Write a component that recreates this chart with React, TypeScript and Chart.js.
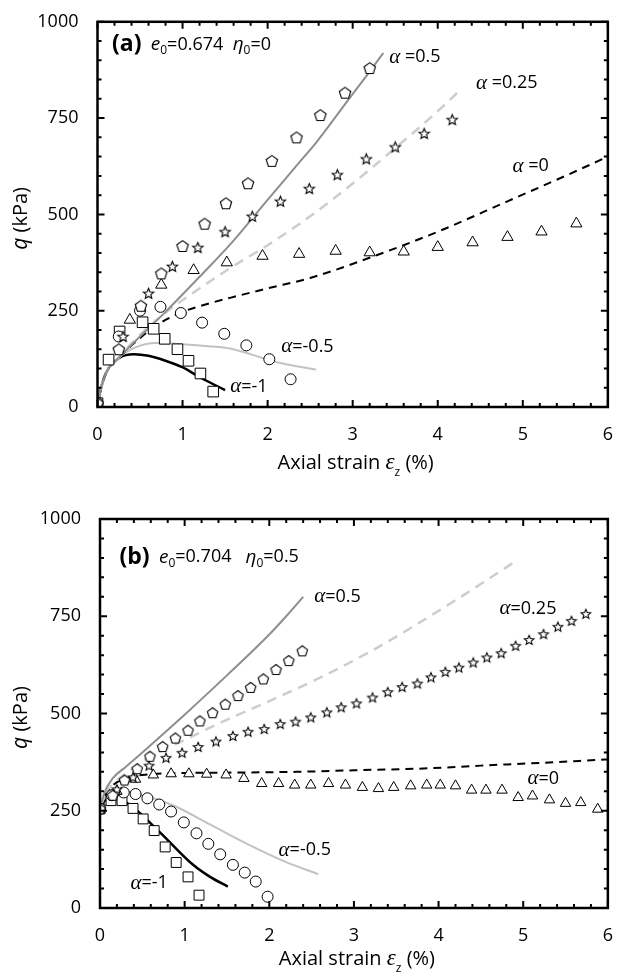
import React, { useEffect, useRef } from "react";
import { Chart, registerables } from "chart.js";

Chart.register(...registerables);

type Pt = [number, number];

// ---------- axes ----------
const X_TICKS = [0, 1, 2, 3, 4, 5, 6];
const Y_TICKS = [0, 250, 500, 750, 1000];
const X_MINOR_STEP = 0.2;
const Y_MINOR_STEP = 50;

// ---------- panel (a): e0 = 0.674, eta0 = 0 ----------
// measured (axial strain %, q kPa)
const A_TEST_P05: Pt[] = [
  [0, 10], [0.25, 150], [0.51, 263], [0.75, 347], [1.0, 418], [1.26, 476], [1.51, 529],
  [1.77, 581], [2.05, 639], [2.34, 700], [2.62, 758], [2.91, 816], [3.2, 880],
];
const A_TEST_P025: Pt[] = [
  [0, 5], [0.3, 183], [0.6, 295], [0.88, 365], [1.18, 414], [1.5, 455], [1.82, 495],
  [2.15, 534], [2.49, 567], [2.82, 603], [3.16, 644], [3.5, 675], [3.84, 710], [4.17, 746],
];
const A_TEST_0: Pt[] = [
  [0, 5], [0.38, 226], [0.75, 317], [1.13, 355], [1.52, 375], [1.94, 392], [2.37, 397],
  [2.8, 405], [3.2, 401], [3.6, 403], [4.0, 415], [4.41, 427], [4.82, 441], [5.22, 455], [5.63, 476],
];
const A_TEST_M05: Pt[] = [
  [0, 10], [0.25, 183], [0.5, 250], [0.74, 260], [0.98, 244], [1.23, 219], [1.49, 190],
  [1.75, 160], [2.02, 124], [2.27, 72],
];
const A_TEST_M1: Pt[] = [
  [0, 10], [0.13, 123], [0.26, 196], [0.53, 220], [0.66, 203], [0.79, 177], [0.94, 150],
  [1.07, 120], [1.21, 87], [1.36, 40],
];
// simulated curves
const A_SIM_P05: Pt[] = [
  [0, 0], [0.03, 38], [0.1, 88], [0.26, 130], [0.5, 183], [0.8, 247], [1.2, 338], [1.6, 432],
  [1.97, 530], [2.35, 629], [2.58, 689], [2.9, 783], [3.18, 865], [3.36, 919],
];
const A_SIM_P025: Pt[] = [
  [0, 0], [0.03, 38], [0.1, 88], [0.26, 130], [0.4, 165], [0.57, 202], [0.8, 245], [1.03, 282],
  [1.57, 362], [2.0, 420], [2.5, 495], [3.0, 580], [3.5, 672], [4.0, 768], [4.26, 822],
];
const A_SIM_0: Pt[] = [
  [0, 0], [0.03, 38], [0.1, 88], [0.26, 130], [0.49, 177], [0.7, 213], [0.98, 245], [1.3, 268],
  [1.57, 284], [2.0, 308], [2.5, 335], [3.23, 390], [4.0, 455], [4.82, 534], [5.5, 600], [6, 650],
];
const A_SIM_M05: Pt[] = [
  [0, 0], [0.03, 38], [0.1, 88], [0.26, 130], [0.45, 155], [0.69, 166], [1.0, 163], [1.3, 158],
  [1.57, 151], [2.0, 123], [2.15, 114], [2.57, 97],
];
const A_SIM_M1: Pt[] = [
  [0, 0], [0.03, 38], [0.1, 88], [0.26, 128], [0.43, 137], [0.6, 133], [0.8, 120], [0.99, 104],
  [1.23, 74], [1.5, 44],
];

// ---------- panel (b): e0 = 0.704, eta0 = 0.5 ----------
const B_TEST_P05: Pt[] = [
  [0, 255], [0.15, 290], [0.29, 329], [0.44, 358], [0.59, 390], [0.74, 415], [0.89, 437],
  [1.04, 457], [1.18, 481], [1.33, 502], [1.48, 524], [1.63, 546], [1.78, 567], [1.93, 589],
  [2.08, 613], [2.23, 636], [2.39, 661],
];
const B_TEST_P025: Pt[] = [
  [0, 255], [0.2, 305], [0.39, 336], [0.58, 366], [0.78, 386], [0.97, 399], [1.16, 414],
  [1.37, 428], [1.57, 442], [1.75, 453], [1.94, 460], [2.13, 473], [2.31, 479], [2.49, 490],
  [2.68, 503], [2.85, 516], [3.03, 526], [3.22, 541], [3.4, 555], [3.57, 568], [3.75, 577],
  [3.91, 593], [4.08, 607], [4.24, 618], [4.41, 631], [4.57, 644], [4.74, 655], [4.91, 674],
  [5.07, 689], [5.24, 704], [5.41, 723], [5.57, 738], [5.74, 756],
];
const B_TEST_0: Pt[] = [
  [0, 252], [0.2, 300], [0.42, 331], [0.63, 342], [0.84, 345], [1.05, 345], [1.26, 344],
  [1.49, 342], [1.7, 333], [1.91, 320], [2.11, 320], [2.3, 316], [2.49, 316], [2.7, 320],
  [2.9, 316], [3.1, 310], [3.29, 307], [3.47, 310], [3.67, 314], [3.86, 316], [4.02, 316],
  [4.2, 314], [4.39, 303], [4.56, 303], [4.75, 303], [4.94, 284], [5.11, 288], [5.31, 278],
  [5.5, 269], [5.68, 271], [5.88, 254],
];
const B_TEST_M05: Pt[] = [
  [0, 255], [0.14, 290], [0.28, 297], [0.42, 293], [0.56, 282], [0.7, 266], [0.84, 248],
  [0.99, 220], [1.14, 192], [1.28, 165], [1.42, 138], [1.57, 111], [1.71, 91], [1.84, 68],
  [1.98, 29],
];
const B_TEST_M1: Pt[] = [
  [0, 255], [0.13, 276], [0.26, 276], [0.39, 256], [0.51, 229], [0.64, 199], [0.77, 157],
  [0.9, 117], [1.04, 80], [1.17, 33],
];
const B_SIM_P05: Pt[] = [
  [0, 255], [0.05, 295], [0.15, 333], [0.3, 362], [0.45, 390], [0.7, 438], [1.0, 497],
  [1.5, 598], [2.0, 703], [2.2, 750], [2.4, 800],
];
const B_SIM_P025: Pt[] = [
  [0, 255], [0.05, 290], [0.15, 318], [0.3, 345], [0.56, 385], [1.0, 432], [1.49, 483],
  [2.0, 532], [2.58, 590], [3.2, 660], [3.71, 725], [4.3, 805], [4.92, 893],
];
const B_SIM_0: Pt[] = [
  [0, 255], [0.05, 285], [0.15, 315], [0.3, 333], [0.5, 342], [1.0, 347], [1.5, 348],
  [2.32, 350], [3.0, 354], [3.87, 359], [4.5, 366], [5.2, 373], [6, 382],
];
const B_SIM_M05: Pt[] = [
  [0, 255], [0.05, 282], [0.12, 298], [0.2, 302], [0.41, 295], [0.84, 266], [1.3, 215],
  [1.72, 167], [2.2, 118], [2.58, 87],
];
const B_SIM_M1: Pt[] = [
  [0, 255], [0.04, 272], [0.12, 283], [0.2, 282], [0.37, 262], [0.72, 192], [1.1, 111],
  [1.3, 80], [1.51, 55],
];

// ---------- styling ----------
const SANS = '"Open Sans", "Liberation Sans", sans-serif';
const SERIF = '"Liberation Serif", "DejaVu Serif", serif';
const F_TEXT = `18px ${SANS}`;
const F_TITLE = `20px ${SANS}`;
const F_GREEK = `italic 21px ${SERIF}`;
const F_GREEK_TITLE = `italic 23px ${SERIF}`;
const F_ITAL = `italic 19px ${SANS}`;
const F_ITAL_TITLE = `italic 21px ${SANS}`;
const F_SUB = `12px ${SANS}`;
const F_BOLD = `bold 23px ${SANS}`;

const C_P05 = "#8e8e8e";
const C_P025 = "#cdcdcd";
const C_M05 = "#c2c2c2";

interface Run { t: string; f: string; dy?: number }
interface Note { x: number; y: number; runs: Run[] }

function drawRuns(ctx: CanvasRenderingContext2D, runs: Run[], x: number, y: number, center = false) {
  ctx.textBaseline = "middle";
  ctx.textAlign = "left";
  let w = 0;
  for (const r of runs) { ctx.font = r.f; w += ctx.measureText(r.t).width; }
  let cx = center ? x - w / 2 : x;
  for (const r of runs) {
    ctx.font = r.f;
    ctx.fillText(r.t, cx, y + (r.dy ?? 0));
    cx += ctx.measureText(r.t).width;
  }
}

function markerCanvas(kind: "pentagon" | "star", size: number): HTMLCanvasElement {
  const pad = 2;
  const dim = Math.ceil(size) + pad * 2;
  const c = document.createElement("canvas");
  c.width = dim;
  c.height = dim;
  const g = c.getContext("2d")!;
  g.translate(dim / 2, dim / 2 + (kind === "pentagon" ? size * 0.05 : size * 0.04));
  const R = size / 2;
  g.beginPath();
  const n = kind === "pentagon" ? 5 : 10;
  for (let i = 0; i < n; i++) {
    const a = -Math.PI / 2 + (i * 2 * Math.PI) / n;
    const r = kind === "star" && i % 2 ? R * 0.45 : R;
    const px = r * Math.cos(a);
    const py = r * Math.sin(a);
    if (i === 0) g.moveTo(px, py); else g.lineTo(px, py);
  }
  g.closePath();
  g.fillStyle = "#fff";
  g.fill();
  g.strokeStyle = "#000";
  g.lineWidth = 1.1;
  g.stroke();
  return c;
}

const toXY = (d: Pt[]) => d.map(([x, y]) => ({ x, y }));

function simLine(d: Pt[], color: string, width: number, dash: number[] = []) {
  return {
    data: toXY(d), showLine: true, borderColor: color, borderWidth: width, borderDash: dash,
    pointRadius: 0, pointHoverRadius: 0, fill: false, cubicInterpolationMode: "monotone", order: 2,
  };
}

function testPoints(d: Pt[], style: any, radius: number) {
  return {
    data: toXY(d), showLine: false, pointStyle: style, pointRadius: radius, pointHoverRadius: radius,
    backgroundColor: "#fff", borderColor: "#000", borderWidth: 1, order: 1,
  };
}

interface PanelSpec {
  datasets: () => any[];
  notes: Note[];
  pad: { top: number; right: number };
  yWidth: number;
  xHeight: number;
  xTitleGap: number;
}

function alphaRuns(value: string, spaced: boolean): Run[] {
  return [{ t: "α", f: F_GREEK }, { t: (spaced ? " " : "") + value, f: F_TEXT }];
}

function headerRuns(tag: string, e0: string, eta0: string, gap: string): Run[] {
  return [
    { t: tag, f: F_BOLD },
    { t: "  ", f: F_TEXT },
    { t: "e", f: F_ITAL },
    { t: "0", f: F_SUB, dy: 6 },
    { t: "=" + e0 + gap, f: F_TEXT },
    { t: "η", f: F_ITAL },
    { t: "0", f: F_SUB, dy: 6 },
    { t: "=" + eta0, f: F_TEXT },
  ];
}

const PANEL_A: PanelSpec = {
  datasets: () => [
    testPoints(A_TEST_P05, markerCanvas("pentagon", 12), 6),
    testPoints(A_TEST_P025, markerCanvas("star", 11), 6),
    testPoints(A_TEST_0, "triangle", 6.5),
    testPoints(A_TEST_M05, "circle", 5.5),
    testPoints(A_TEST_M1, "rect", 7.5),
    simLine(A_SIM_P05, C_P05, 2),
    simLine(A_SIM_P025, C_P025, 2.5, [10, 7]),
    simLine(A_SIM_0, "#000", 2, [8, 6]),
    simLine(A_SIM_M05, C_M05, 2),
    simLine(A_SIM_M1, "#000", 2.5),
  ],
  notes: [
    { x: 0.17, y: 940, runs: headerRuns("(a)", "0.674", "0", "  ") },
    { x: 3.43, y: 908, runs: alphaRuns("=0.5", true) },
    { x: 4.45, y: 841, runs: alphaRuns("=0.25", true) },
    { x: 4.88, y: 625, runs: alphaRuns("=0", true) },
    { x: 2.16, y: 157, runs: alphaRuns("=-0.5", false) },
    { x: 1.56, y: 52, runs: alphaRuns("=-1", false) },
  ],
  pad: { top: 19.5, right: 6.5 },
  yWidth: 97.5,
  xHeight: 82,
  xTitleGap: 56,
};

const PANEL_B: PanelSpec = {
  datasets: () => [
    testPoints(B_TEST_P05, markerCanvas("pentagon", 11), 6),
    testPoints(B_TEST_P025, markerCanvas("star", 10), 6),
    testPoints(B_TEST_0, "triangle", 6),
    testPoints(B_TEST_M05, "circle", 5.5),
    testPoints(B_TEST_M1, "rect", 7),
    simLine(B_SIM_P05, C_P05, 2),
    simLine(B_SIM_P025, C_P025, 2.5, [10, 7]),
    simLine(B_SIM_0, "#000", 2, [8, 6]),
    simLine(B_SIM_M05, C_M05, 2),
    simLine(B_SIM_M1, "#000", 2.5),
  ],
  notes: [
    { x: 0.23, y: 902, runs: headerRuns("(b)", "0.704", "0.5", "   ") },
    { x: 2.53, y: 800, runs: alphaRuns("=0.5", false) },
    { x: 4.72, y: 769, runs: alphaRuns("=0.25", false) },
    { x: 5.05, y: 332, runs: alphaRuns("=0", false) },
    { x: 2.11, y: 149, runs: alphaRuns("=-0.5", false) },
    { x: 0.36, y: 64, runs: alphaRuns("=-1", false) },
  ],
  pad: { top: 30, right: 5 },
  yWidth: 100,
  xHeight: 70,
  xTitleGap: 51,
};

function makeDecor(spec: PanelSpec) {
  return {
    id: "decor",
    afterDatasetsDraw(chart: any) {
      const { ctx, chartArea } = chart;
      const { left, right, top, bottom } = chartArea;
      const xs = chart.scales.x;
      const ys = chart.scales.y;
      ctx.save();
      ctx.strokeStyle = "#000";
      ctx.lineWidth = 2;
      ctx.beginPath();
      const nx = Math.round((X_TICKS[X_TICKS.length - 1] - X_TICKS[0]) / X_MINOR_STEP);
      for (let i = 0; i <= nx; i++) {
        const v = X_TICKS[0] + i * X_MINOR_STEP;
        const major = X_TICKS.some((t) => Math.abs(t - v) < 1e-6);
        const L = major ? 7 : 4;
        const px = xs.getPixelForValue(v);
        ctx.moveTo(px, bottom); ctx.lineTo(px, bottom - L);
        ctx.moveTo(px, top); ctx.lineTo(px, top + L);
      }
      const ny = Math.round((Y_TICKS[Y_TICKS.length - 1] - Y_TICKS[0]) / Y_MINOR_STEP);
      for (let i = 0; i <= ny; i++) {
        const v = Y_TICKS[0] + i * Y_MINOR_STEP;
        const major = Y_TICKS.includes(v);
        const L = major ? 7 : 4;
        const py = ys.getPixelForValue(v);
        ctx.moveTo(left, py); ctx.lineTo(left + L, py);
        ctx.moveTo(right, py); ctx.lineTo(right - L, py);
      }
      ctx.stroke();
      ctx.lineWidth = 2.5;
      ctx.strokeRect(left, top, right - left, bottom - top);
      ctx.restore();
    },
    afterDraw(chart: any) {
      const { ctx, chartArea } = chart;
      const xs = chart.scales.x;
      const ys = chart.scales.y;
      ctx.save();
      ctx.fillStyle = "#000";
      for (const n of spec.notes) {
        drawRuns(ctx, n.runs, xs.getPixelForValue(n.x), ys.getPixelForValue(n.y));
      }
      // x axis title
      drawRuns(
        ctx,
        [
          { t: "Axial strain ", f: F_TITLE },
          { t: "ε", f: F_GREEK_TITLE },
          { t: "z", f: F_SUB, dy: 10 },
          { t: " (%)", f: F_TITLE },
        ],
        (chartArea.left + chartArea.right) / 2 + 3,
        chartArea.bottom + spec.xTitleGap,
        true
      );
      // y axis title
      ctx.translate(21, (chartArea.top + chartArea.bottom) / 2 + 4);
      ctx.rotate(-Math.PI / 2);
      drawRuns(ctx, [{ t: "q", f: F_ITAL_TITLE }, { t: " (kPa)", f: F_TITLE }], 0, 0, true);
      ctx.restore();
    },
  };
}

function Panel({ spec }: { spec: PanelSpec }) {
  const ref = useRef<HTMLCanvasElement | null>(null);
  useEffect(() => {
    if (!ref.current) return;
    const chart = new Chart(ref.current, {
      type: "scatter",
      data: { datasets: spec.datasets() as any },
      options: {
        animation: false,
        responsive: false,
        devicePixelRatio: 1,
        events: [],
        layout: { padding: { top: spec.pad.top, right: spec.pad.right, left: 0, bottom: 0 } },
        plugins: { legend: { display: false }, tooltip: { enabled: false } },
        scales: {
          x: {
            type: "linear",
            min: X_TICKS[0],
            max: X_TICKS[X_TICKS.length - 1],
            afterBuildTicks: (s: any) => { s.ticks = X_TICKS.map((value) => ({ value })); },
            afterFit: (s: any) => { s.height = spec.xHeight; },
            grid: { display: false },
            border: { display: false },
            ticks: { color: "#000", font: { family: SANS, size: 18 }, padding: 9, maxRotation: 0, callback: (v: any) => String(v) },
          },
          y: {
            type: "linear",
            min: Y_TICKS[0],
            max: Y_TICKS[Y_TICKS.length - 1],
            afterBuildTicks: (s: any) => { s.ticks = Y_TICKS.map((value) => ({ value })); },
            afterFit: (s: any) => { s.width = spec.yWidth; },
            grid: { display: false },
            border: { display: false },
            ticks: { color: "#000", font: { family: SANS, size: 18 }, padding: 11, callback: (v: any) => String(v) },
          },
        },
      } as any,
      plugins: [makeDecor(spec)],
    });
    return () => chart.destroy();
  }, [spec]);
  return <canvas ref={ref} width={622} height={489} style={{ display: "block", width: 622, height: 489 }} />;
}

export default function App() {
  return (
    <div style={{ position: "absolute", left: 0, top: 0, width: 622, height: 978, background: "#fff" }}>
      <Panel spec={PANEL_A} />
      <Panel spec={PANEL_B} />
    </div>
  );
}
